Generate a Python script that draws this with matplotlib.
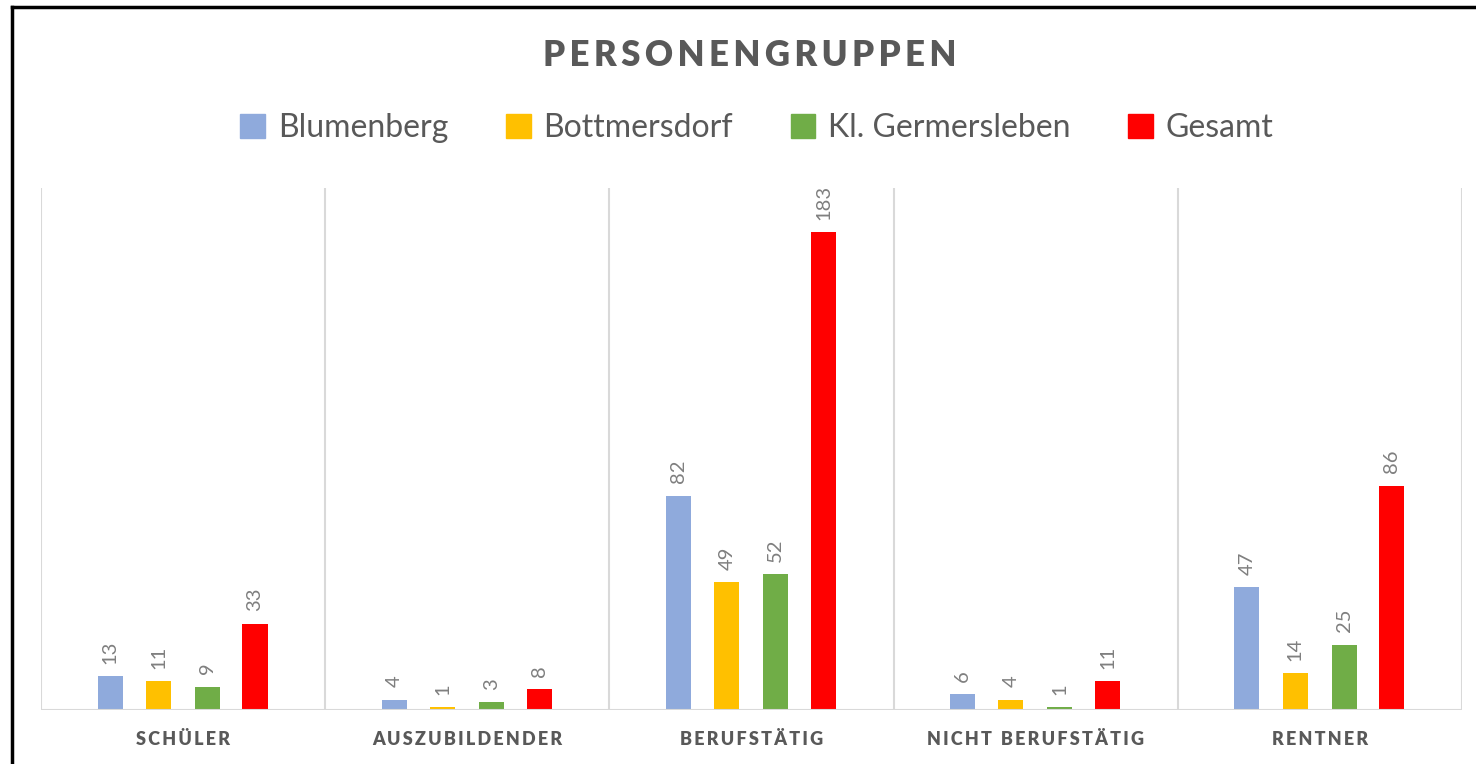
import numpy as np
import matplotlib
matplotlib.use("Agg")
import matplotlib.pyplot as plt
from matplotlib.lines import Line2D

plt.rcParams["font.family"] = ["Lato", "DejaVu Sans"]

categories = ["SCHÜLER", "AUSZUBILDENDER", "BERUFSTÄTIG", "NICHT BERUFSTÄTIG", "RENTNER"]
series = ["Blumenberg", "Bottmersdorf", "Kl. Germersleben", "Gesamt"]
blumenberg = [13, 4, 82, 6, 47]
bottmersdorf = [11, 1, 49, 4, 14]
germersleben = [9, 3, 52, 1, 25]
gesamt = [33, 8, 183, 11, 86]
values = [blumenberg, bottmersdorf, germersleben, gesamt]
colors = ["#8faadc", "#ffc000", "#70ad47", "#ff0000"]

text_gray = "#595959"
label_gray = "#7f7f7f"
grid_gray = "#d9d9d9"


def spaced(s, sep="\u2009"):
    # imitate the letter spacing of the original
    return sep.join(s).replace(sep + " " + sep, sep * 4)


fig = plt.figure(figsize=(14.76, 7.64), dpi=100)
ax = fig.add_axes([41 / 1476, 1 - 710 / 764, (1462 - 41) / 1476, (710 - 188) / 764])

x = np.arange(len(categories))
offsets = [-0.257, -0.087, 0.085, 0.253]
width = 0.088

for vals, off, col, name in zip(values, offsets, colors, series):
    bars = ax.bar(x + off, vals, width, color=col, label=name, zorder=3)
    for b, v in zip(bars, vals):
        ax.annotate(str(v), (b.get_x() + b.get_width() / 2, v), xytext=(0, 9),
                    textcoords="offset points", rotation=90, ha="center", va="bottom",
                    fontsize=14.5, color=label_gray)

ax.set_xlim(-0.5, len(categories) - 0.5)
ax.set_ylim(0, 200)
for b in np.arange(-0.5, len(categories), 1.0):
    ax.axvline(b, color=grid_gray, lw=1.5, zorder=1)
ax.axhline(0, color=grid_gray, lw=1.5, zorder=4)
for s in ax.spines.values():
    s.set_visible(False)
ax.set_yticks([])
ax.set_xticks(x)
ax.set_xticklabels([spaced(c) for c in categories], fontsize=13, fontweight="heavy",
                   color=text_gray)
ax.tick_params(axis="x", length=0, pad=15)

fig.text(750 / 1476, 1 - 55 / 764, spaced("PERSONENGRUPPEN"), ha="center", va="center",
         fontsize=25, fontweight="heavy", color=text_gray)

handles = [plt.Rectangle((0, 0), 1, 1, color=c) for c in colors]
fig.legend(handles, series, loc="center", bbox_to_anchor=(757 / 1476, 1 - 128 / 764), ncol=4,
           frameon=False, fontsize=23, labelcolor=text_gray, handlelength=0.78,
           handleheight=0.78, handletextpad=0.4, columnspacing=1.8)

# frame border (left and top visible in the reference)
fig.add_artist(Line2D([11.5 / 1476, 11.5 / 1476], [0, 1 - 6.5 / 764], color="black", lw=2.5,
                      transform=fig.transFigure))
fig.add_artist(Line2D([11.5 / 1476, 1], [1 - 6.5 / 764, 1 - 6.5 / 764], color="black", lw=2.5,
                      transform=fig.transFigure))

fig.savefig("out.png", dpi=100)
